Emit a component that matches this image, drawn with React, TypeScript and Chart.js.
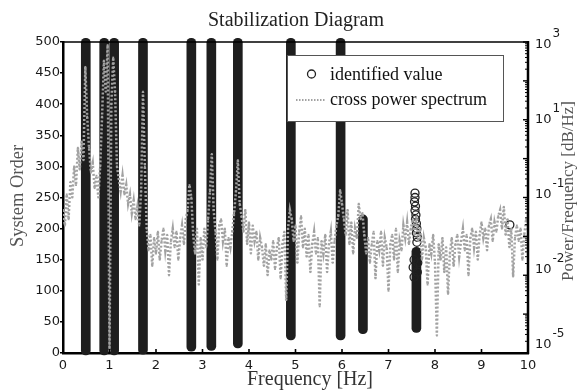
import React, { useEffect, useRef } from 'react';
import { Chart, registerables } from 'chart.js';

Chart.register(...registerables);

const titleText = 'Stabilization Diagram';
const xTitle = 'Frequency [Hz]';
const yTitle = 'System Order';
const y2Title = 'Power/Frequency [dB/Hz]';
const legendLabels = ['identified value', 'cross power spectrum'];

const xTickMin = 0;
const xTickMax = 10;
const yTickMin = 0;
const yTickMax = 500;

// Stable modes drawn as solid columns of identified values
const modeFrequencies = [0.49, 0.886, 1.1, 1.72, 2.76, 3.19, 3.76, 4.9, 5.97, 6.45, 7.6];
const modeOrderMin = [-3, -3, -3, -2, 3, 4, 8, 21, 21, 31, 33];
const modeOrderMax = [506, 506, 506, 506, 506, 506, 506, 506, 506, 222, 170];

// Scattered (individually visible) identified values
const scatterFreqs = [7.57, 7.57, 7.56, 7.58, 7.57, 7.59, 7.58, 7.6, 7.61, 7.6, 7.62, 7.61, 7.55, 7.63, 7.53, 7.62, 7.55, 9.61];
const scatterOrders = [257, 250, 243, 236, 229, 222, 215, 208, 200, 193, 186, 178, 150, 145, 138, 130, 122, 206];

// Cross power spectrum (plotted in system-order units), one value per 0.04 Hz
const spectrumStep = 0.04;
const spectrumValues = [
  230, 205, 255, 215, 275, 250, 300, 270, 330, 295,
  340, 310, 460, 380, 330, 290, 305, 265, 285, 250,
  300, 380, 470, 420, 495, 3, 400, 475, 420, 300,
  280, 260, 285, 255, 270, 240, 255, 225, 245, 215,
  235, 205, 260, 420, 300, 200, 165, 190, 140, 185,
  160, 195, 150, 180, 200, 165, 190, 125, 180, 200,
  170, 195, 150, 185, 205, 175, 215, 230, 270, 250,
  190, 160, 200, 110, 185, 150, 200, 170, 215, 260,
  320, 230, 195, 150, 205, 215, 180, 200, 140, 185,
  170, 195, 225, 260, 310, 240, 220, 195, 230, 175,
  210, 160, 205, 180, 195, 150, 185, 170, 140, 175,
  125, 165, 150, 180, 135, 170, 185, 120, 175, 195,
  85, 200, 230, 215, 180, 205, 145, 195, 220, 170,
  200, 155, 190, 130, 175, 195, 160, 185, 75, 180,
  160, 190, 130, 175, 195, 145, 180, 205, 220, 262,
  240, 215, 190, 230, 175, 210, 160, 200, 185, 240,
  215, 225, 190, 160, 185, 145, 175, 195, 120, 180,
  165, 195, 140, 185, 170, 100, 175, 190, 150, 200,
  130, 180, 165, 205, 185, 210, 175, 200, 215, 190,
  220, 180, 200, 150, 185, 170, 110, 175, 160, 190,
  145, 28, 175, 150, 185, 130, 170, 95, 160, 185,
  140, 175, 190, 155, 180, 200, 165, 190, 125, 185,
  200, 170, 195, 150, 190, 210, 185, 200, 165, 205,
  215, 180, 210, 195, 220, 230, 200, 235, 190, 215,
  170, 200, 123, 185, 205, 180, 200, 150, 190, 215,
  195,
];

// Right axis (log-decade labels), positions in left-axis units
const rightLabelExponents = ['-5', '-2', '-1', '1', '3'];
const rightLabelValues = [13, 134, 255, 375, 495];
const rightMajorStep = 62.5;

const SERIF = '"Liberation Serif", "Times New Roman", serif';
const SANS = '"DejaVu Sans", sans-serif';
const SPEC_COLOR = '#a2a2a2';

const decorPlugin = {
  id: 'decor',
  afterDraw(chart: any) {
    const { ctx, chartArea: ca, scales } = chart;
    const xs = scales.x;
    const ys = scales.y;
    ctx.save();

    // top border
    ctx.strokeStyle = '#000';
    ctx.lineWidth = 1.5;
    ctx.beginPath();
    ctx.moveTo(ca.left, ca.top);
    ctx.lineTo(ca.right, ca.top);
    ctx.stroke();

    // right border
    ctx.lineWidth = 2.5;
    ctx.beginPath();
    ctx.moveTo(ca.right, ca.top - 1);
    ctx.lineTo(ca.right, ca.bottom + 1);
    ctx.stroke();

    // inward x ticks
    ctx.lineWidth = 1.6;
    for (let v = xTickMin; v <= xTickMax; v++) {
      const px = xs.getPixelForValue(v);
      ctx.beginPath();
      ctx.moveTo(px, ca.bottom);
      ctx.lineTo(px, ca.bottom - 4);
      ctx.stroke();
    }

    // right axis major + minor ticks
    const nSeg = Math.round((yTickMax - yTickMin) / rightMajorStep);
    for (let k = 0; k <= nSeg; k++) {
      const py = ys.getPixelForValue(yTickMin + k * rightMajorStep);
      ctx.lineWidth = 1.4;
      ctx.beginPath();
      ctx.moveTo(ca.right, py);
      ctx.lineTo(ca.right - 5, py);
      ctx.stroke();
      if (k < nSeg) {
        const upper = ys.getPixelForValue(yTickMin + (k + 1) * rightMajorStep);
        const seg = py - upper;
        ctx.lineWidth = 1;
        for (let m = 2; m <= 9; m++) {
          const my = py - Math.log10(m) * seg;
          ctx.beginPath();
          ctx.moveTo(ca.right, my);
          ctx.lineTo(ca.right - 3, my);
          ctx.stroke();
        }
      }
    }

    // right axis labels
    ctx.fillStyle = '#1a1a1a';
    ctx.textBaseline = 'middle';
    ctx.textAlign = 'left';
    rightLabelValues.forEach((v, i) => {
      const py = ys.getPixelForValue(v);
      ctx.font = '13px ' + SANS;
      const bx = ca.right + 7;
      ctx.fillText('10', bx, py);
      const w = ctx.measureText('10').width;
      ctx.font = '12px ' + SANS;
      ctx.fillText(rightLabelExponents[i], bx + w + 1, py - 11);
    });

    // title
    ctx.fillStyle = '#222';
    ctx.textAlign = 'center';
    ctx.textBaseline = 'middle';
    ctx.font = '20px ' + SERIF;
    ctx.fillText(titleText, 296, 21);

    // x title
    ctx.font = '20px ' + SERIF;
    ctx.fillStyle = '#333';
    ctx.fillText(xTitle, 310, 380);

    // y title
    ctx.save();
    ctx.translate(18, 196);
    ctx.rotate(-Math.PI / 2);
    ctx.fillStyle = '#555';
    ctx.font = '18.5px ' + SERIF;
    ctx.fillText(yTitle, 0, 0);
    ctx.restore();

    // right title
    ctx.save();
    ctx.translate(569, 191);
    ctx.rotate(-Math.PI / 2);
    ctx.fillStyle = '#555';
    ctx.font = '17px ' + SERIF;
    ctx.fillText(y2Title, 0, 0);
    ctx.restore();

    // legend
    const lx = 287, ly = 55, lw = 216, lh = 66;
    ctx.fillStyle = '#fff';
    ctx.fillRect(lx, ly, lw, lh);
    ctx.strokeStyle = '#555';
    ctx.lineWidth = 1;
    ctx.strokeRect(lx + 0.5, ly + 0.5, lw, lh);

    ctx.strokeStyle = '#222';
    ctx.lineWidth = 1.3;
    ctx.beginPath();
    ctx.arc(311.5, 74, 4, 0, Math.PI * 2);
    ctx.stroke();

    ctx.strokeStyle = SPEC_COLOR;
    ctx.lineWidth = 2;
    ctx.setLineDash([1.5, 1.5]);
    ctx.beginPath();
    ctx.moveTo(296, 100);
    ctx.lineTo(326, 100);
    ctx.stroke();
    ctx.setLineDash([]);

    ctx.fillStyle = '#111';
    ctx.textAlign = 'left';
    ctx.font = '18px ' + SERIF;
    ctx.fillText(legendLabels[0], 330, 75);
    ctx.fillText(legendLabels[1], 330, 100);

    ctx.restore();
  },
};

export default function App() {
  const ref = useRef<HTMLCanvasElement>(null);

  useEffect(() => {
    document.body.style.margin = '0';
    const spectrumData = spectrumValues.map((v, i) => ({ x: i * spectrumStep, y: v }));
    const barData = modeFrequencies.map((f, i) => ({ x: f, y: [modeOrderMin[i], modeOrderMax[i]] }));
    const scatterData = scatterFreqs.map((f, i) => ({ x: f, y: scatterOrders[i] }));

    const chart = new Chart(ref.current as HTMLCanvasElement, {
      type: 'bar',
      data: {
        datasets: [
          {
            type: 'line',
            label: legendLabels[1],
            data: spectrumData,
            borderColor: SPEC_COLOR,
            borderWidth: 2.5,
            borderDash: [2, 2],
            pointRadius: 1.3,
            pointStyle: 'rect',
            pointBorderWidth: 0,
            pointBackgroundColor: SPEC_COLOR,
            tension: 0,
            order: 0,
          } as any,
          {
            type: 'scatter',
            label: legendLabels[0],
            data: scatterData,
            pointStyle: 'circle',
            pointRadius: 4,
            borderColor: '#222',
            borderWidth: 1.3,
            backgroundColor: 'rgba(0,0,0,0)',
            clip: false,
            order: 1,
          } as any,
          {
            type: 'bar',
            label: legendLabels[0],
            data: barData,
            backgroundColor: '#1e1e1e',
            borderWidth: 0,
            barThickness: 9,
            borderRadius: 4.5,
            borderSkipped: false,
            clip: false,
            order: 2,
          } as any,
        ],
      },
      options: {
        responsive: false,
        animation: false,
        events: [],
        layout: { padding: { top: 42, right: 55, left: 0, bottom: 0 } },
        plugins: {
          legend: { display: false },
          tooltip: { enabled: false },
          title: { display: false },
        },
        scales: {
          x: {
            type: 'linear',
            min: xTickMin,
            max: xTickMax,
            offset: false,
            ticks: {
              stepSize: 1,
              autoSkip: false,
              maxRotation: 0,
              padding: 5,
              color: '#1a1a1a',
              font: { family: SANS, size: 13 },
            },
            grid: { display: false, drawTicks: false },
            border: { display: true, color: '#000', width: 2.5 },
            afterFit: (s: any) => {
              s.height = 39;
            },
          },
          y: {
            type: 'linear',
            min: yTickMin,
            max: yTickMax,
            ticks: {
              stepSize: 50,
              padding: 0,
              color: '#1a1a1a',
              font: { family: SANS, size: 13 },
            },
            grid: {
              display: true,
              drawOnChartArea: false,
              drawTicks: true,
              tickLength: 3,
              color: '#000',
              lineWidth: 1.5,
            },
            border: { display: true, color: '#000', width: 2.5 },
            afterFit: (s: any) => {
              s.width = 63;
            },
          },
        },
      },
      plugins: [decorPlugin],
    } as any);

    return () => chart.destroy();
  }, []);

  return (
    <canvas
      ref={ref}
      width={583}
      height={392}
      style={{ display: 'block', width: 583, height: 392 }}
    />
  );
}
